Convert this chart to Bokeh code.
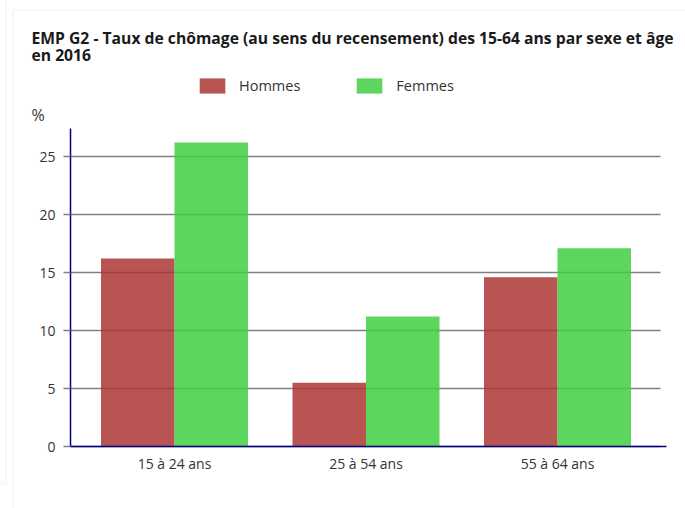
from bokeh.plotting import figure
from bokeh.models import (ColumnDataSource, Range1d, FixedTicker, Legend, LegendItem,
                          Label, BoxAnnotation, LinearAxis)
from bokeh.embed import file_html
from bokeh.resources import INLINE

# ---- data ----
categories = ["15 à 24 ans", "25 à 54 ans", "55 à 64 ans"]
hommes = [16.2, 5.5, 14.6]
femmes = [26.2, 11.2, 17.1]
y_ticks = [0, 5, 10, 15, 20, 25]
title_lines = ["EMP G2 - Taux de chômage (au sens du recensement) des 15-64 ans par sexe et âge",
               "en 2016"]
series_names = ["Hommes", "Femmes"]
unit_label = "%"

# ---- layout (pixels of the 685x508 canvas) ----
W, H = 685, 508
X0_PX, X_STEP_PX = 174.0, 191.5      # centre of first group, distance between groups
Y0_PX, Y_UNIT_PX = 446.0, 11.6       # pixel row of value 0, pixels per unit
AX_LEFT_PX, AX_RIGHT_PX, AX_TOP_PX = 70.0, 666.0, 128.0
GRID_RIGHT_PX = 660.0


def px2x(px):
    return (px - X0_PX) / X_STEP_PX


def py2y(py):
    return (Y0_PX - py) / Y_UNIT_PX


FONT = "Open Sans"
RED = "#ac3634"
GREEN = "#3fcf3f"
BAR_W = 73.5 / X_STEP_PX

idx = list(range(len(categories)))
src = ColumnDataSource(dict(
    xh=[i - BAR_W / 2 for i in idx],
    xf=[i + BAR_W / 2 for i in idx],
    hommes=hommes,
    femmes=femmes,
))
grid_src = ColumnDataSource(dict(
    x0=[px2x(AX_LEFT_PX)] * len(y_ticks),
    x1=[px2x(GRID_RIGHT_PX)] * len(y_ticks),
    y=y_ticks,
))

p = figure(width=W, height=H, output_backend="svg", toolbar_location=None,
           x_range=Range1d(px2x(0), px2x(W)), y_range=Range1d(py2y(H), py2y(0)),
           x_axis_type=None, y_axis_type=None,
           min_border_left=0, min_border_right=0, min_border_top=0, min_border_bottom=0)
p.outline_line_color = None
p.background_fill_color = "white"
p.border_fill_color = "white"
p.xgrid.visible = False
p.ygrid.visible = False

# page frame decoration (light grey borders)
p.add_layout(BoxAnnotation(left=px2x(-20), right=px2x(5.5), top=py2y(-20), bottom=py2y(483),
                           fill_alpha=0, line_color="#e6e6e6", line_width=2, level="underlay"))
p.add_layout(BoxAnnotation(left=px2x(12.5), right=px2x(W + 20), top=py2y(9.5), bottom=py2y(H + 20),
                           fill_alpha=0, line_color="#e6e6e6", line_width=2, level="underlay"))

# horizontal grid lines at the y ticks
p.segment(x0="x0", x1="x1", y0="y", y1="y", source=grid_src, line_color="#7f7f7f", line_width=1.5)

rh = p.vbar(x="xh", top="hommes", width=BAR_W, source=src, fill_color=RED, fill_alpha=0.85,
            line_color=None)
rf = p.vbar(x="xf", top="femmes", width=BAR_W, source=src, fill_color=GREEN, fill_alpha=0.85,
            line_color=None)

# axes
xaxis = LinearAxis(fixed_location=0, bounds=(px2x(AX_LEFT_PX), px2x(AX_RIGHT_PX)),
                   ticker=FixedTicker(ticks=idx),
                   major_label_overrides={i: c for i, c in zip(idx, categories)},
                   major_tick_line_color=None, minor_tick_line_color=None,
                   axis_line_color="#000080", axis_line_width=1.5,
                   major_label_text_font=FONT, major_label_text_font_size="14px",
                   major_label_text_color="#333333", major_label_standoff=1)
p.add_layout(xaxis, "below")

yaxis = LinearAxis(fixed_location=px2x(AX_LEFT_PX), bounds=(0, py2y(AX_TOP_PX)),
                   ticker=FixedTicker(ticks=y_ticks),
                   axis_line_color="#000080", axis_line_width=1.5,
                   major_tick_out=7, major_tick_in=0,
                   major_tick_line_color="#7f7f7f", major_tick_line_width=1.5,
                   minor_tick_line_color=None,
                   major_label_text_font=FONT, major_label_text_font_size="14px",
                   major_label_text_color="#333333", major_label_standoff=8)
p.add_layout(yaxis, "left")

# legend
legend = Legend(items=[LegendItem(label=series_names[0], renderers=[rh]),
                       LegendItem(label=series_names[1], renderers=[rf])],
                orientation="horizontal", location=(196, H - 95),
                glyph_width=32, glyph_height=19, label_standoff=11, spacing=53,
                padding=0, margin=0, border_line_color=None, background_fill_alpha=0,
                label_text_font=FONT, label_text_font_size="14.5px", label_text_color="#333333",
                label_height=19)
p.add_layout(legend, "center")

# title and unit label
for line, yb in zip(title_lines, [37, 54.5]):
    p.add_layout(Label(x=px2x(31), y=py2y(yb), text=line,
                       text_font=FONT, text_font_size="15.7px", text_font_style="bold",
                       text_color="#1a1a1a", text_baseline="alphabetic"))
p.add_layout(Label(x=px2x(31), y=py2y(114), text=unit_label,
                   text_font=FONT, text_font_size="16px", text_color="#333333",
                   text_baseline="alphabetic"))

open("out.html", "w").write(file_html(p, INLINE))
